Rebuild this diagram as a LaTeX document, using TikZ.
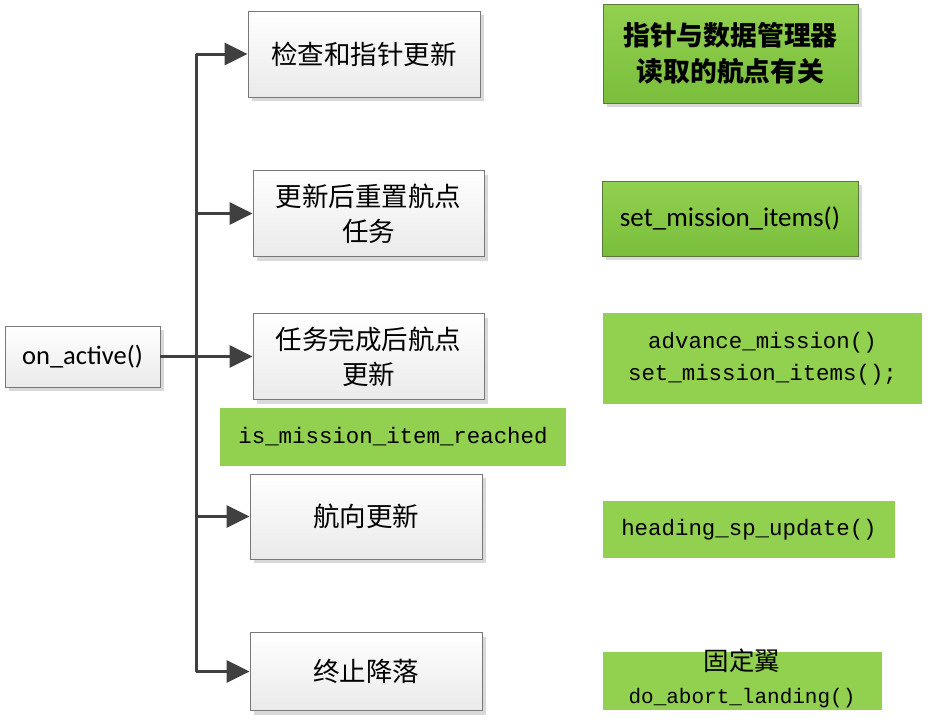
\documentclass[tikz,border=0pt]{standalone}
\usepackage{fontspec}
\setmainfont{Carlito}
\newfontfamily\cjk{Noto Sans CJK SC}
\newfontfamily\mono{Liberation Mono}
\usetikzlibrary{arrows.meta,shadows}
\definecolor{lg}{RGB}{146,208,80}
\definecolor{lgd}{RGB}{122,190,60}
\definecolor{gbord}{RGB}{90,120,60}
\definecolor{wbord}{RGB}{120,120,120}
\definecolor{wbot}{RGB}{234,234,234}
\definecolor{conncol}{RGB}{64,64,64}
\begin{document}
\begin{tikzpicture}[x=1pt,y=-1pt,
  wbox/.style={draw=wbord, line width=0.8pt, top color=white, bottom color=wbot,
    drop shadow={shadow xshift=4pt, shadow yshift=-4pt, fill=black!15, opacity=1},
    inner sep=0pt, align=center, font=\cjk\fontsize{26.5}{35}\selectfont},
  gboxb/.style={draw=gbord, line width=0.8pt, top color=lg, bottom color=lgd,
    drop shadow={shadow xshift=4pt, shadow yshift=-4pt, fill=black!15, opacity=1},
    inner sep=0pt, align=center},
  gbox/.style={fill=lg, inner sep=0pt, align=center},
  monof/.style={font=\mono\fontsize{22.4}{32}\selectfont},
  conn/.style={draw=conncol, line width=3pt, line join=miter},
  arr/.style={conn, -{Triangle[length=23pt,width=22pt]}}
]
\useasboundingbox (0,0) rectangle (930,721);

% left node
\node[wbox, font=\fontsize{26.5}{30}\selectfont, minimum width=155pt, minimum height=61pt] (on) at (82.5,356.5) {on\_active()};

% white boxes
\node[wbox, minimum width=232pt, minimum height=86pt] (b1) at (364,54) {检查和指针更新};
\node[wbox, minimum width=231pt, minimum height=86pt] (b2) at (368.5,213.5) {更新后重置航点\\任务};
\node[wbox, minimum width=231pt, minimum height=86pt] (b3) at (368.5,356.5) {任务完成后航点\\更新};
\node[wbox, minimum width=232pt, minimum height=85pt] (b4) at (366,516.5) {航向更新};
\node[wbox, minimum width=232pt, minimum height=78pt] (b5) at (366,671.5) {终止降落};

% green boxes
\node[gboxb, minimum width=255pt, minimum height=99pt, font=\cjk\bfseries\fontsize{26.8}{36}\selectfont] (g1) at (730.5,53.5) {指针与数据管理器\\读取的航点有关};
\node[gboxb, minimum width=256pt, minimum height=75pt, font=\fontsize{27}{30}\selectfont] (g2) at (730,218.5) {set\_mission\_items()};
\node[gbox, monof, minimum width=319pt, minimum height=91pt] (g3) at (762.5,358.5) {advance\_mission()\\set\_mission\_items();};
\node[gbox, monof, minimum width=346pt, minimum height=58pt] (g0) at (393,437) {is\_mission\_item\_reached};
\node[gbox, monof, minimum width=292pt, minimum height=57pt] (g4) at (749,529.5) {heading\_sp\_update()};
\node[gbox, minimum width=279pt, minimum height=58pt] (g5) at (742.5,681) {};
\node[align=center, inner sep=0pt, font=\mono\fontsize{21}{33}\selectfont] (g5t) at (742,678) {{\cjk\fontsize{25.5}{33}\selectfont 固定翼}\\do\_abort\_landing()};

% connectors
\coordinate (t1) at (196,54);
\coordinate (t2) at (196,213.5);
\coordinate (t4) at (196,516.5);
\coordinate (t5) at (196,671.5);
\draw[conn] (t1) -- (t5);
\draw[arr] (on.east) -- (b3.west);
\draw[arr] (t1) -- (b1.west);
\draw[arr] (t2) -- (b2.west);
\draw[arr] (t4) -- (b4.west);
\draw[arr] (t5) -- (b5.west);
\end{tikzpicture}
\end{document}
